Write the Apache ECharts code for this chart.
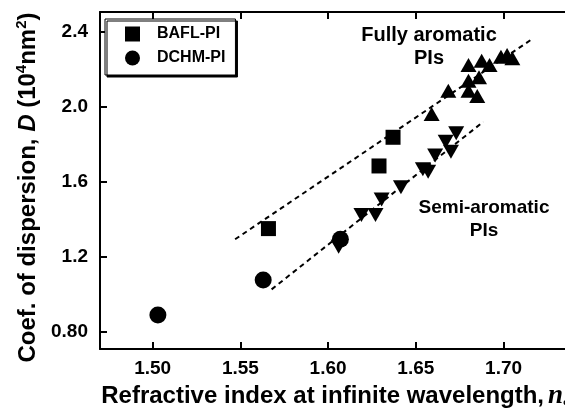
<!DOCTYPE html>
<html>
<head>
<meta charset="utf-8">
<script src="https://cdn.jsdelivr.net/npm/echarts@6/dist/echarts.min.js"></script>
<style>
  html, body { margin: 0; padding: 0; background: #fff; }
  #chart { width: 565px; height: 408px; }
</style>
</head>
<body>
<div id="chart"></div>
<script>
// BAFL-PI (squares)
const baflX = [1.566, 1.629, 1.637];
const baflY = [1.350, 1.684, 1.837];
// DCHM-PI (circles)
const dchmX = [1.503, 1.563, 1.607];
const dchmY = [0.889, 1.076, 1.293];
// fully aromatic PIs (up triangles)
const fullX = [1.659, 1.6685, 1.680, 1.685, 1.680, 1.686, 1.680, 1.6875, 1.692, 1.6985, 1.702, 1.705];
const fullY = [1.961, 2.085, 2.085, 2.057, 2.139, 2.157, 2.222, 2.245, 2.222, 2.267, 2.276, 2.258];
// semi-aromatic PIs (down triangles)
const semiX = [1.606, 1.619, 1.627, 1.6305, 1.6415, 1.654, 1.657, 1.661, 1.667, 1.670, 1.673];
const semiY = [1.253, 1.422, 1.422, 1.505, 1.570, 1.666, 1.653, 1.740, 1.813, 1.760, 1.858];
// dashed guide lines
const fitUpX = [1.547, 1.716];
const fitUpY = [1.293, 2.359];
const fitLowX = [1.5678, 1.6885];
const fitLowY = [1.026, 1.920];
// ticks
const xTicks = [1.50, 1.55, 1.60, 1.65, 1.70];
const yTicks = [0.8, 1.2, 1.6, 2.0, 2.4];

const FONT = "'Liberation Sans', Arial, sans-serif";

function pairs(xs, ys) {
  return xs.map((x, i) => [x, ys[i]]);
}

const chart = echarts.init(document.getElementById("chart"));

const option = {
  animation: false,
  backgroundColor: "#fff",
  grid: { left: 100, top: 12, right: 0, bottom: 59, containLabel: false, outerBoundsMode: "none" },
  legend: {
    orient: "vertical",
    left: 105,
    top: 19,
    padding: [7, 10, 9, 20],
    itemWidth: 15,
    itemHeight: 15,
    itemGap: 8,
    borderColor: "#000",
    borderWidth: 1,
    backgroundColor: "#fff",
    shadowColor: "#000",
    shadowOffsetX: 2,
    shadowOffsetY: 2,
    shadowBlur: 0,
    data: ["BAFL-PI", "DCHM-PI"],
    textStyle: {
      fontFamily: FONT,
      fontWeight: "bold",
      fontSize: 16,
      color: "#000",
      padding: [0, 0, 0, 12],
    },
  },
  xAxis: [
    {
      type: "value",
      min: 1.47,
      max: 1.735,
      position: "bottom",
      axisLine: { show: true, lineStyle: { color: "#000", width: 2 } },
      axisTick: { inside: true, length: 7, lineStyle: { color: "#000", width: 2 }, customValues: xTicks },
      axisLabel: {
        customValues: xTicks,
        formatter: (v) => v.toFixed(2),
        fontFamily: FONT,
        fontWeight: "bold",
        fontSize: 19,
        color: "#000",
        margin: 10,
      },
      splitLine: { show: false },
      name: "{b|Refractive index at infinite wavelength,}{i|n}{s|∞}",
      nameLocation: "middle",
      nameGap: 26,
      nameTextStyle: {
        padding: [0, 0, 0, 10],
        rich: {
          b: { fontFamily: FONT, fontWeight: "bold", fontSize: 24, color: "#000" },
          i: { fontFamily: "'Liberation Serif', serif", fontStyle: "italic", fontWeight: "bold", fontSize: 27, color: "#000", padding: [0, 0, 0, 4] },
          s: { fontFamily: FONT, fontWeight: "bold", fontSize: 15, color: "#000", padding: [12, 0, 0, 0] },
        },
      },
    },
    {
      type: "value",
      min: 1.47,
      max: 1.735,
      position: "top",
      axisLine: { show: true, lineStyle: { color: "#000", width: 2 } },
      axisTick: { inside: true, length: 7, lineStyle: { color: "#000", width: 2 }, customValues: xTicks },
      axisLabel: { show: false },
      splitLine: { show: false },
    },
  ],
  yAxis: {
    type: "value",
    min: 0.708,
    max: 2.505,
    axisLine: { show: true, lineStyle: { color: "#000", width: 2 } },
    axisTick: { inside: true, length: 7, lineStyle: { color: "#000", width: 2 }, customValues: yTicks },
    axisLabel: {
      customValues: yTicks,
      formatter: (v) => (v < 1 ? v.toFixed(2) : v.toFixed(1)),
      fontFamily: FONT,
      fontWeight: "bold",
      fontSize: 19,
      color: "#000",
      margin: 12,
    },
    splitLine: { show: false },
    name: "{b|Coef. of dispersion, }{i|D}{b| (10}{p|4}{b|nm}{p|2}{b|)}",
    nameLocation: "middle",
    nameRotate: 90,
    nameGap: 58,
    nameTextStyle: {
      padding: [0, 14, 0, 0],
      rich: {
        b: { fontFamily: FONT, fontWeight: "bold", fontSize: 24, color: "#000" },
        i: { fontFamily: FONT, fontStyle: "italic", fontWeight: "bold", fontSize: 24, color: "#000" },
        p: { fontFamily: FONT, fontWeight: "bold", fontSize: 15, color: "#000", padding: [0, 0, 12, 0] },
      },
    },
  },
  graphic: [
    {
      type: "text",
      style: {
        x: 429,
        y: 24,
        text: "Fully aromatic\nPIs",
        align: "center",
        verticalAlign: "top",
        font: "bold 20px " + FONT,
        fill: "#000",
        lineHeight: 23,
      },
    },
    {
      type: "text",
      style: {
        x: 484,
        y: 196,
        text: "Semi-aromatic\nPIs",
        align: "center",
        verticalAlign: "top",
        font: "bold 19px " + FONT,
        fill: "#000",
        lineHeight: 23,
      },
    },
  ],
  series: [
    {
      name: "fitUp",
      type: "line",
      data: pairs(fitUpX, fitUpY),
      symbol: "none",
      lineStyle: { color: "#000", width: 2, type: [5, 4] },
      z: 1,
    },
    {
      name: "fitLow",
      type: "line",
      data: pairs(fitLowX, fitLowY),
      symbol: "none",
      lineStyle: { color: "#000", width: 2, type: [5, 4] },
      z: 1,
    },
    {
      name: "Fully aromatic",
      type: "scatter",
      data: pairs(fullX, fullY),
      symbol: "triangle",
      symbolSize: [16, 14],
      itemStyle: { color: "#000", opacity: 1 },
      z: 2,
    },
    {
      name: "Semi-aromatic",
      type: "scatter",
      data: pairs(semiX, semiY),
      symbol: "triangle",
      symbolRotate: 180,
      symbolSize: [16, 14],
      itemStyle: { color: "#000", opacity: 1 },
      z: 2,
    },
    {
      name: "BAFL-PI",
      type: "scatter",
      data: pairs(baflX, baflY),
      symbol: "rect",
      symbolSize: 15,
      itemStyle: { color: "#000", opacity: 1 },
      z: 3,
    },
    {
      name: "DCHM-PI",
      type: "scatter",
      data: pairs(dchmX, dchmY),
      symbol: "circle",
      symbolSize: 17,
      itemStyle: { color: "#000", opacity: 1 },
      z: 3,
    },
  ],
};

chart.setOption(option);
</script>
</body>
</html>
